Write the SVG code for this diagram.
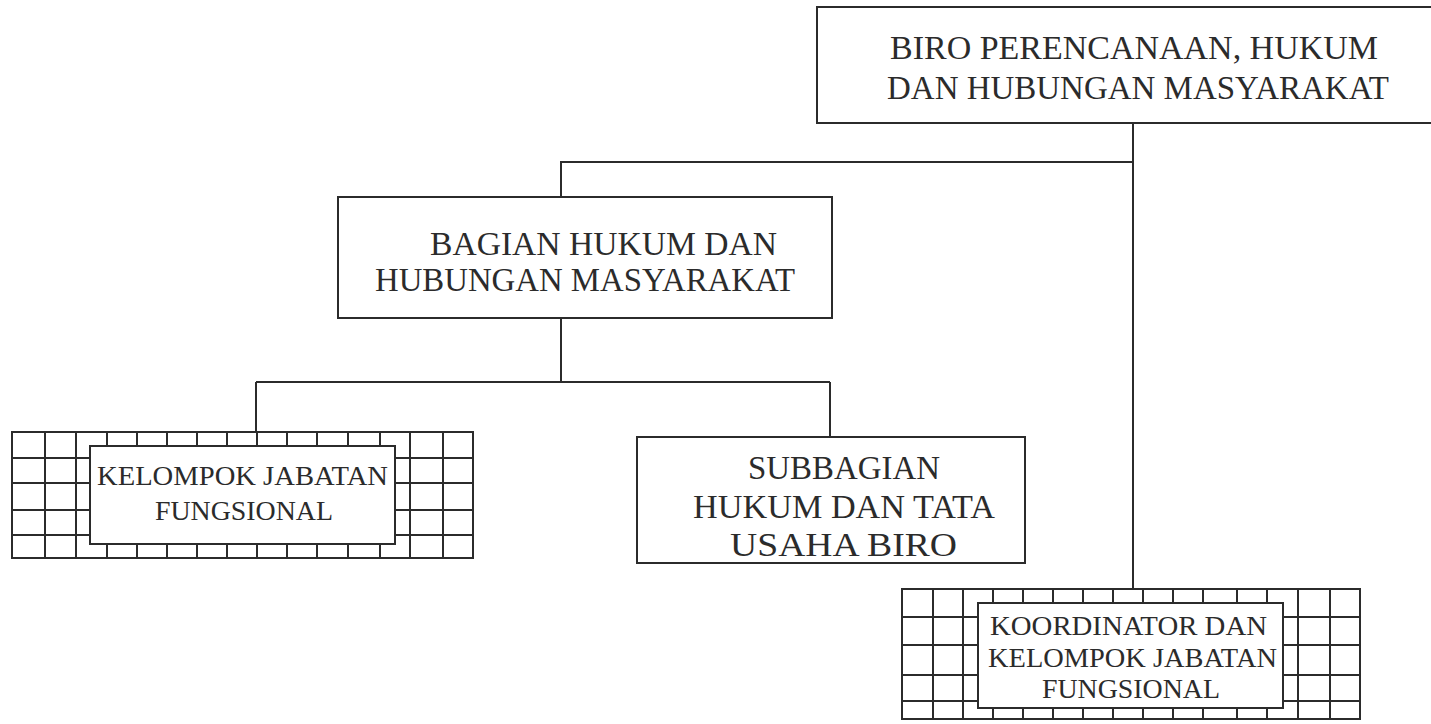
<svg xmlns="http://www.w3.org/2000/svg" width="1431" height="724" viewBox="0 0 1431 724">
<style>
.box{fill:#fff;stroke:#2b2b2b;stroke-width:2}
.grid{fill:none;stroke:#2b2b2b;stroke-width:2}
.ln{fill:none;stroke:#2b2b2b;stroke-width:2}
.t{font-family:"Liberation Serif","DejaVu Serif",serif;fill:#2b2b2b}
.big{font-size:33px}
.sm{font-size:27px}
</style>
<rect width="1431" height="724" fill="#fff"/>
<g id="connectors">
<path class="ln" d="M1133 123V589M1133 162H561V197M561 318V382M256 382H830M256 382V432M830 382V437"/>
</g>
<g id="biro">
<rect class="box" x="817" y="7" width="620" height="116"/>
<text class="t big" x="890" y="59" textLength="488" lengthAdjust="spacingAndGlyphs">BIRO PERENCANAAN, HUKUM</text>
<text class="t big" x="887" y="99" textLength="502" lengthAdjust="spacingAndGlyphs">DAN HUBUNGAN MASYARAKAT</text>
</g>
<g id="bagian">
<rect class="box" x="338" y="197" width="494" height="121"/>
<text class="t big" x="430" y="255" textLength="347" lengthAdjust="spacingAndGlyphs">BAGIAN HUKUM DAN</text>
<text class="t big" x="375" y="291" textLength="420" lengthAdjust="spacingAndGlyphs">HUBUNGAN MASYARAKAT</text>
</g>
<g id="subbagian">
<rect class="box" x="637" y="437" width="388" height="126"/>
<text class="t big" x="748" y="479" textLength="192" lengthAdjust="spacingAndGlyphs">SUBBAGIAN</text>
<text class="t big" x="693" y="518" textLength="302" lengthAdjust="spacingAndGlyphs">HUKUM DAN TATA</text>
<text class="t big" x="730" y="556" textLength="227" lengthAdjust="spacingAndGlyphs">USAHA BIRO</text>
</g>
<g id="kelompok">
<path class="grid" d="M12 432H473V558H12Z M45 432V558M76 432V558M107 432V558M137 432V558M167 432V558M197 432V558M227 432V558M257 432V558M287 432V558M317 432V558M348 432V558M380 432V558M410 432V558M443 432V558 M12 458H473M12 483H473M12 510H473M12 535H473"/>
<rect class="box" x="90" y="446" width="305" height="98"/>
<text class="t sm" x="97" y="485" textLength="291" lengthAdjust="spacingAndGlyphs">KELOMPOK JABATAN</text>
<text class="t sm" x="155" y="520" textLength="178" lengthAdjust="spacingAndGlyphs">FUNGSIONAL</text>
</g>
<g id="koordinator">
<path class="grid" d="M902 589H1360V719H902Z M933 589V719M963 589V719M993 589V719M1023 589V719M1053 589V719M1083 589V719M1113 589V719M1143 589V719M1173 589V719M1203 589V719M1237 589V719M1267 589V719M1298 589V719M1330 589V719 M902 617H1360M902 645H1360M902 675H1360M902 701H1360"/>
<rect class="box" x="978" y="603" width="305" height="105"/>
<text class="t sm" x="990" y="635" textLength="277" lengthAdjust="spacingAndGlyphs">KOORDINATOR DAN</text>
<text class="t sm" x="988" y="667" textLength="289" lengthAdjust="spacingAndGlyphs">KELOMPOK JABATAN</text>
<text class="t sm" x="1042" y="698" textLength="178" lengthAdjust="spacingAndGlyphs">FUNGSIONAL</text>
</g>
</svg>
